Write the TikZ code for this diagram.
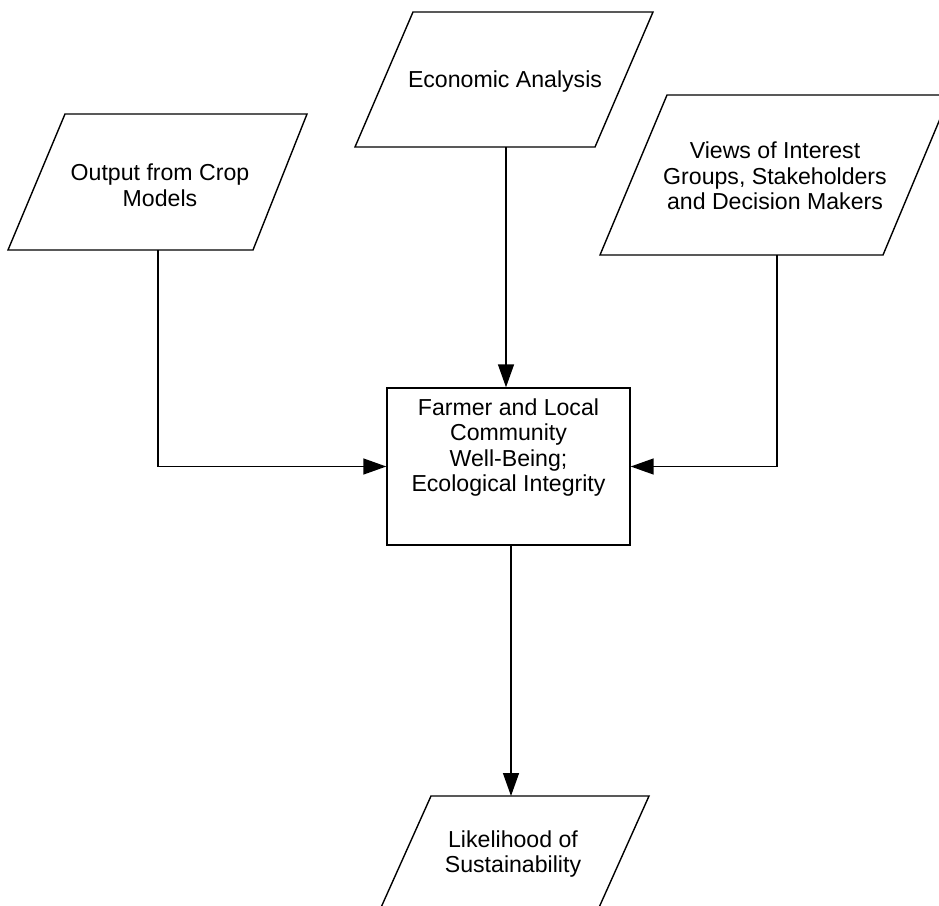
\documentclass[tikz,border=0pt]{standalone}
\usepackage{fontspec}
\setmainfont{Liberation Sans}
\usetikzlibrary{arrows.meta,calc}

\tikzset{
  outline/.style={draw=black, line width=1.4pt, line join=miter},
  lbl/.style={align=center, inner sep=0pt, font=\fontsize{23.2}{25.6}\selectfont},
  box/.style={outline, minimum width=243bp, minimum height=157bp, inner sep=0pt},
  link/.style={draw=black, line width=1.4pt, -{Triangle[length=23pt,width=16pt]}},
}

\begin{document}
\begin{tikzpicture}[x={(1bp,0)}, y={(0,-1bp)}]
  \useasboundingbox (0,0) rectangle (939,906);
  \clip (0,0) rectangle (939,906);
  \fill[white] (0,0) rectangle (939,906);

  % input parallelograms
  \draw[outline] (65,114) -- (307,114) -- (253,250) -- (8,250) -- cycle;
  \node[lbl] (crop) at (160,185) {Output from Crop\\Models};
  \coordinate (cropout) at (158,250);

  \draw[outline] (413,12) -- (653,12) -- (595,147) -- (355,147) -- cycle;
  \node[lbl] (econ) at (505,82) {Economic Analysis};
  \coordinate (econout) at (506,147);

  \draw[outline] (667,95) -- (950,95) -- (883,255) -- (600,255) -- cycle;
  \node[lbl] (views) at (775,176) {Views of Interest\\Groups, Stakeholders\\and Decision Makers};
  \coordinate (viewsout) at (777,255);

  % central process box
  \node[box] (wb) at (508.5,466.5) {};
  \node[lbl, anchor=north] (wbtext) at ($(wb.north)+(0,11)$)
    {Farmer and Local\\Community\\Well-Being;\\Ecological Integrity};

  % output parallelogram
  \draw[outline] (431,796) -- (649,796) -- (588,932) -- (370,932) -- cycle;
  \node[lbl] (lik) at (513,854) {Likelihood of\\Sustainability};
  \coordinate (likin) at (511,796);

  % connectors
  \draw[link] (cropout) |- (wb.west);
  \draw[link] (econout) -- (econout |- wb.north);
  \draw[link] (viewsout) |- (wb.east);
  \draw[link] (wb.south -| likin) -- (likin);
\end{tikzpicture}
\end{document}
